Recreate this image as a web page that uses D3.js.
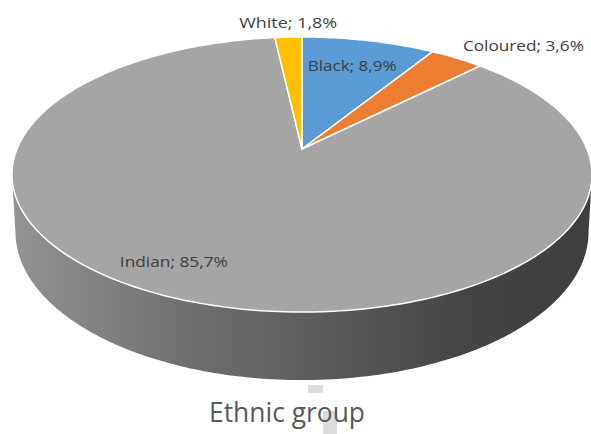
<!DOCTYPE html>
<html>
<head>
<meta charset="utf-8">
<script src="https://cdn.jsdelivr.net/npm/d3@7"></script>
<style>
  html, body { margin: 0; padding: 0; background: #ffffff; }
  svg { display: block; }
</style>
</head>
<body>
<svg id="chart" width="591" height="434"></svg>
<script>
// ---- data ----
const categories = ["Black", "Coloured", "Indian", "White"];
const values = [8.9, 3.6, 85.7, 1.8];
const sliceColors = ["#5b9bd5", "#ed7d31", "#a5a5a5", "#ffc000"];
const title = "Ethnic group";

// ---- layout ----
const svg = d3.select("#chart");
const cx = 302, cy = 149;        // apex of the perspective pie
const R = 285;                   // horizontal radius
const A = 132.8;                 // vertical depth scale
const K = 0.1855;                // perspective factor
const T = 55.4;                  // thickness
const SHRINK = 0.012;            // slight narrowing of the bottom rim

// perspective projection of a point on the disk (theta clockwise from 12 o'clock)
function project(theta, z, r = 1) {
  const u = r * Math.sin(theta), v = r * Math.cos(theta);
  const w = 1 + K * v;
  const s = 1 - SHRINK * z;
  return [cx + s * R * u / w, cy + (-A * v + T * z) / w];
}

const pie = d3.pie().sort(null).value(d => d).startAngle(0).endAngle(2 * Math.PI);
const arcs = pie(values);
const line = d3.line();

// side gradient
const defs = svg.append("defs");
const grad = defs.append("linearGradient")
  .attr("id", "sideGrad").attr("gradientUnits", "userSpaceOnUse")
  .attr("x1", 12).attr("x2", 592).attr("y1", 0).attr("y2", 0);
[[0, "#939393"], [0.3, "#707070"], [0.6, "#555555"], [0.8, "#444444"], [1, "#3e3e3e"]]
  .forEach(([o, c]) => grad.append("stop").attr("offset", o).attr("stop-color", c));

// background artifacts near title (faint marks in reference)
const artG = svg.append("g").attr("fill", "#dcdcdc");
artG.append("rect").attr("x", 308).attr("y", 385).attr("width", 15).attr("height", 8);
artG.append("rect").attr("x", 323).attr("y", 411).attr("width", 14).attr("height", 23);

// ---- side (visible front half between silhouettes) ----
const th1 = Math.acos(-K), th2 = 2 * Math.PI - Math.acos(-K);
const N = 160;
const sidePts = [];
for (let i = 0; i <= N; i++) sidePts.push(project(th1 + (th2 - th1) * i / N, 0));
for (let i = N; i >= 0; i--) sidePts.push(project(th1 + (th2 - th1) * i / N, 1));
svg.append("path")
  .attr("d", line(sidePts) + "Z")
  .attr("fill", "url(#sideGrad)");

// ---- top face slices ----
function slicePath(a) {
  const pts = [[cx, cy]];
  const n = Math.max(4, Math.ceil((a.endAngle - a.startAngle) / (Math.PI / 180)));
  for (let i = 0; i <= n; i++) {
    pts.push(project(a.startAngle + (a.endAngle - a.startAngle) * i / n, 0));
  }
  return line(pts) + "Z";
}
svg.append("g").selectAll("path")
  .data(arcs)
  .join("path")
  .attr("d", slicePath)
  .attr("fill", (d, i) => sliceColors[i])
  .attr("stroke", "#ffffff")
  .attr("stroke-width", 1.5)
  .attr("stroke-linejoin", "round");

// ---- data labels ----
const fmt = v => String(v.toFixed(1)).replace(".", ",") + "%";
// label placement: radius factor along slice bisector, plus a pixel nudge
const labelPlace = [
  { r: 0.72, dx: 0, dy: -2.5, len: 89 },
  { r: 1.2, dx: 40, dy: 2, len: 121 },
  { r: 0.75, dx: -47, dy: 4, len: 108 },
  { r: 1.2, dx: 2, dy: 3, len: 98 }
];
svg.append("g").selectAll("text")
  .data(arcs)
  .join("text")
  .each(function (d, i) {
    const mid = (d.startAngle + d.endAngle) / 2;
    const p = project(mid, 0, labelPlace[i].r);
    d3.select(this)
      .attr("x", p[0] + labelPlace[i].dx)
      .attr("y", p[1] + labelPlace[i].dy)
      .attr("textLength", labelPlace[i].len)
      .attr("lengthAdjust", "spacingAndGlyphs");
  })
  .attr("text-anchor", "middle")
  .attr("dominant-baseline", "central")
  .attr("font-family", "'Open Sans', 'Noto Sans', sans-serif")
  .attr("font-size", 15)
  .attr("fill", "#404040")
  .text((d, i) => categories[i] + "; " + fmt(values[i]));

// ---- title ----
svg.append("text")
  .attr("x", 287)
  .attr("y", 422)
  .attr("text-anchor", "middle")
  .attr("font-family", "'Open Sans', 'Noto Sans', sans-serif")
  .attr("font-size", 27)
  .attr("textLength", 156)
  .attr("lengthAdjust", "spacingAndGlyphs")
  .attr("fill", "#595959")
  .text(title);
</script>
</body>
</html>
